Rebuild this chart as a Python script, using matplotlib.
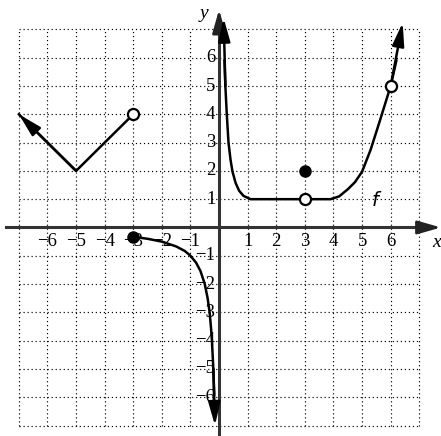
import matplotlib
matplotlib.use('Agg')
import matplotlib.pyplot as plt

# pieces of f
left_x = [-7, -5, -3]
left_y = [4, 2, 4]

recip_x = [-3, -2.5, -2, -1.5, -1.2, -1, -0.8, -0.65, -0.5, -0.4, -0.33, -0.28, -0.25, -0.2, -0.17, -0.143]
recip_y = [-0.33, -0.4, -0.5, -0.67, -0.83, -1, -1.25, -1.54, -2, -2.5, -3, -3.57, -4, -5, -5.9, -7]

right_x = [0.16, 0.19, 0.22, 0.27, 0.33, 0.4, 0.47, 0.58, 0.7, 0.85, 1.1, 2, 3, 3.9, 4.2, 4.5, 4.75, 5.0, 5.3, 5.6, 6.0, 6.2, 6.42]
right_y = [7.4, 5.9, 5.0, 4.0, 3.0, 2.4, 1.97, 1.57, 1.3, 1.12, 1.0, 1, 1, 1.0, 1.1, 1.35, 1.6, 1.97, 2.75, 3.7, 5.0, 5.9, 7.24]

open_x = [-3, 3, 6]
open_y = [4, 1, 5]
closed_x = [-3, 3]
closed_y = [-0.33, 2]

ticks = [-6, -5, -4, -3, -2, -1, 1, 2, 3, 4, 5, 6]

serif = ['Liberation Serif', 'DejaVu Serif']

fig = plt.figure(figsize=(4.41, 4.36), dpi=100)
ax = fig.add_axes([0, 0, 1, 1])
ax.set_xlim(-7.66, 7.76)
ax.set_ylim(-7.37, 8.04)
ax.axis('off')

# dotted grid
for v in range(-7, 8):
    ax.plot([v, v], [-7, 7], color='k', lw=0.85, ls=(0, (1, 2.4)), zorder=1)
    ax.plot([-7, 7], [v, v], color='k', lw=0.85, ls=(0, (1, 2.4)), zorder=1)

# axes with arrows
ax.plot([-7.45, 7.3], [0, 0], color='#333333', lw=2.2, zorder=2)
ax.plot([0, 0], [-7.4, 7.3], color='#333333', lw=2.2, zorder=2)
ax.annotate('', xy=(7.76, 0), xytext=(7.2, 0),
            arrowprops=dict(arrowstyle='-|>,head_length=0.7,head_width=0.2', mutation_scale=20,
                            color='#222222', lw=2, shrinkA=0, shrinkB=0), zorder=3)
ax.annotate('', xy=(0, 7.7), xytext=(0, 7.1),
            arrowprops=dict(arrowstyle='-|>,head_length=0.7,head_width=0.2', mutation_scale=20,
                            color='#222222', lw=2, shrinkA=0, shrinkB=0), zorder=3)

# tick labels
for t in ticks:
    lab = str(t).replace('-', '\u2212')
    ax.text(t, -0.5, lab, ha='center', va='center', fontsize=13.5, family=serif, zorder=2)
    ax.text(-0.13, t, lab, ha='right', va='center', fontsize=13.5, family=serif, zorder=2)
ax.text(7.6, -0.52, 'x', ha='center', va='center', fontsize=14, style='italic', family=serif)
ax.text(-0.52, 7.55, 'y', ha='center', va='center', fontsize=14, style='italic', family=serif)
ax.text(5.45, 0.97, 'f', ha='center', va='center', fontsize=14, style='italic', family=['DejaVu Sans'])

# curves
arrow = dict(arrowstyle='-|>,head_length=0.7,head_width=0.18', mutation_scale=20,
             color='k', lw=1.8, shrinkA=0, shrinkB=0)
ax.plot(left_x, left_y, color='k', lw=1.8, zorder=4)
ax.annotate('', xy=(left_x[0], left_y[0]), xytext=(left_x[1], left_y[1]), arrowprops=arrow, zorder=4)

ax.plot(recip_x[:-1], recip_y[:-1], color='k', lw=1.8, zorder=4)
ax.annotate('', xy=(recip_x[-1], recip_y[-1]), xytext=(recip_x[-3], recip_y[-3]), arrowprops=arrow, zorder=4)

ax.plot(right_x[1:-1], right_y[1:-1], color='k', lw=1.8, zorder=4)
ax.annotate('', xy=(right_x[0], right_y[0]), xytext=(right_x[2], right_y[2]), arrowprops=arrow, zorder=4)
ax.annotate('', xy=(right_x[-1], right_y[-1]), xytext=(right_x[-3], right_y[-3]), arrowprops=arrow, zorder=4)

# endpoints
ax.plot(open_x, open_y, 'o', ms=8, mfc='white', mec='k', mew=1.6, zorder=5)
ax.plot(closed_x, closed_y, 'o', ms=8, mfc='k', mec='k', zorder=5)

fig.savefig('out.png', dpi=100)
